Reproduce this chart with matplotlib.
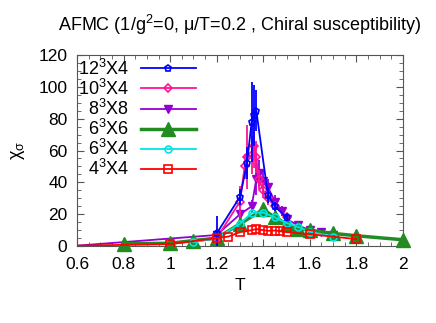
import numpy as np
import matplotlib
matplotlib.use("Agg")
import matplotlib.pyplot as plt
from matplotlib.ticker import MultipleLocator

plt.rcParams['font.family'] = ['Liberation Sans', 'DejaVu Sans']
plt.rcParams['mathtext.fontset'] = 'custom'
plt.rcParams['mathtext.rm'] = 'Liberation Sans'
plt.rcParams['mathtext.it'] = 'Liberation Sans'

# 12^3 x 4
T_12 = [1.2, 1.3, 1.33, 1.35, 1.36, 1.37, 1.42, 1.45, 1.5]
chi_12 = [8, 31, 52, 78, 82, 85, 32, 25, 18]
err_12 = [11, 5, 10, 25, 19, 13, 5, 3, 2]

# 10^3 x 4
T_10 = [1.2, 1.3, 1.32, 1.33, 1.35, 1.36, 1.37, 1.38, 1.4, 1.42, 1.45, 1.5]
chi_10 = [5, 28, 50, 56, 57, 63, 56, 42, 35, 30, 25, 18]
err_10 = [2, 10, 8, 20, 12, 14, 10, 6, 5, 4, 3, 2]

# 8^3 x 8
T_8 = [0.6, 1.2, 1.3, 1.35, 1.37, 1.38, 1.4, 1.42, 1.45, 1.48, 1.5, 1.55, 1.6, 1.65, 1.7]
chi_8 = [0.3, 7, 20, 25, 42, 46, 41, 37, 28, 22, 17, 13, 10, 9, 7]
err_8 = [0.1, 1, 3, 4, 10, 8, 7, 5, 4, 3, 2, 1.5, 1, 1, 1]

# 6^3 x 6
T_66 = [0.8, 1.0, 1.1, 1.2, 1.3, 1.4, 1.45, 1.5, 1.55, 1.6, 1.7, 1.8, 2.0]
chi_66 = [1.5, 1.8, 3.5, 5, 14, 23, 18, 14, 11, 10, 8, 6.5, 4]

# 6^3 x 4
T_64 = [1.1, 1.2, 1.3, 1.35, 1.4, 1.45, 1.5, 1.55, 1.6, 1.7]
chi_64 = [2.5, 5, 14, 21, 21, 18, 14.5, 12, 9, 6]

# 4^3 x 4
T_44 = [0.6, 1.0, 1.2, 1.25, 1.3, 1.35, 1.37, 1.4, 1.42, 1.45, 1.47, 1.5, 1.6, 1.8]
chi_44 = [0.3, 1.3, 5, 6, 8.8, 10, 10.7, 10, 9.6, 9.8, 9.4, 8.8, 7.5, 4.4]

labels = ['12$^3$X4', '10$^3$X4', '\u20078$^3$X8', '\u20076$^3$X6', '\u20076$^3$X4', '\u20074$^3$X4']

fig = plt.figure(figsize=(4.36, 3.23), dpi=100)
ax = fig.add_axes([0.177, 0.238, 0.747, 0.592])

e12 = ax.errorbar(T_12, chi_12, yerr=err_12, color='#0000ff', marker='p', ms=5, mfc='none',
                  mew=1.2, lw=1.3, elinewidth=1.3, capsize=0, zorder=6)
e10 = ax.errorbar(T_10, chi_10, yerr=err_10, color='#ff1493', marker='D', ms=4, mfc='none',
                  mew=1.2, lw=1.3, elinewidth=1.3, capsize=0, zorder=5)
e8 = ax.errorbar(T_8, chi_8, yerr=err_8, color='#9400d3', marker='v', ms=6, markevery=range(1, len(T_8)),
                 lw=1.3, elinewidth=1.3, capsize=0, zorder=4)
l66, = ax.plot(T_66, chi_66, color='#228b22', marker='^', ms=10, lw=2.5, zorder=4.5, clip_on=False)
l64, = ax.plot(T_64, chi_64, color='#00e5e5', marker='o', ms=5, mfc='none', mew=1.2, lw=1.3,
               zorder=4.6)
l44, = ax.plot(T_44, chi_44, color='#ff0000', marker='s', ms=6, mfc='none', mew=1.2, lw=1.3,
               markevery=range(1, len(T_44)), zorder=7)

ax.set_xlim(0.6, 2.0)
ax.set_ylim(0, 120)
ax.xaxis.set_minor_locator(MultipleLocator(0.05))
ax.yaxis.set_major_locator(MultipleLocator(20))
ax.yaxis.set_minor_locator(MultipleLocator(5))
ax.set_xticks([0.6, 0.8, 1.0, 1.2, 1.4, 1.6, 1.8, 2.0])
ax.set_xticklabels(['0.6', '0.8', '1', '1.2', '1.4', '1.6', '1.8', '2'])
ax.tick_params(which='both', direction='in', top=True, right=True, labelsize=12.5,
               color='#555555')
ax.tick_params(which='major', length=5)
ax.tick_params(which='minor', length=3)
ax.tick_params(axis='x', pad=8)
ax.tick_params(axis='y', pad=7)
for s in ax.spines.values():
    s.set_color('#555555')

ax.set_xlabel('T', fontsize=12.5, labelpad=4)
ax.set_ylabel(r'$\chi_\sigma$', fontsize=13, labelpad=8)
ax.set_title(r'AFMC (1/g$^2$=0, $\mu$/T=0.2 , Chiral susceptibility)', fontsize=13, pad=17)

handles = [e12[0], e10[0], e8[0], l66, l64, l44]
leg = ax.legend(handles, labels, loc='upper left', markerfirst=False, frameon=False, fontsize=13,
                handlelength=3.0, handletextpad=0.7, labelspacing=0.0,
                borderaxespad=0.0, borderpad=0.2)
leg.set_bbox_to_anchor((-0.01, 1.0), transform=ax.transAxes)

fig.savefig('out.png', dpi=100)
